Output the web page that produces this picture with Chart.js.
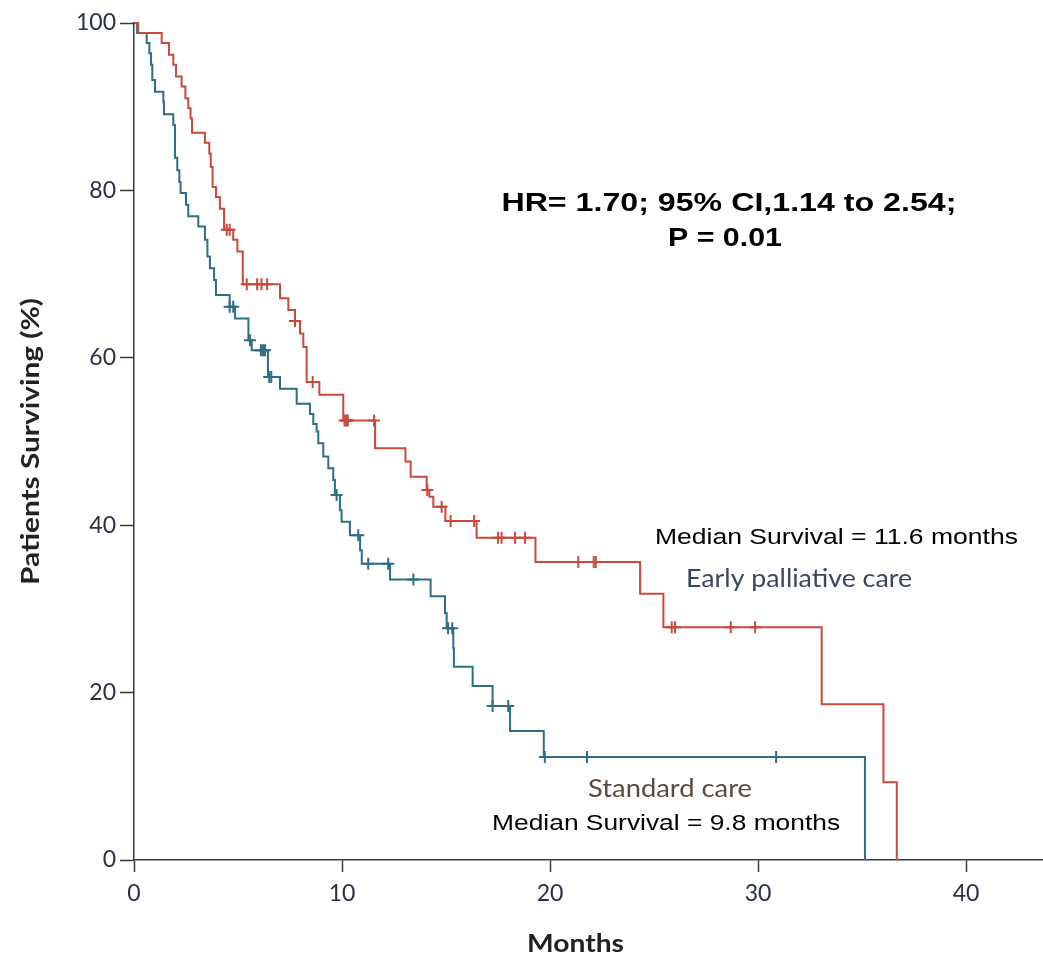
<!DOCTYPE html>
<html>
<head>
<meta charset="utf-8">
<script src="https://cdn.jsdelivr.net/npm/chart.js@4.4.1/dist/chart.umd.min.js"></script>
<style>
  html, body { margin: 0; padding: 0; background: #ffffff; overflow: hidden; }
  #wrap { width: 1043px; height: 957px; overflow: hidden; }
  #c { display: block; }
</style>
</head>
<body>
<div id="wrap"><canvas id="c" width="1051" height="957"></canvas></div>
<script>
// ---- Data ----
const xTicks = [0, 10, 20, 30, 40];
const yTicks = [0, 20, 40, 60, 80, 100];

// Early palliative care: step times (months) and survival (%) after each step
const earlyTimes = [0, 0.2, 1.33, 1.68, 1.89, 2.02, 2.29, 2.47, 2.61, 2.72, 2.79, 3.41, 3.62, 3.69, 3.78, 3.94, 4.13, 4.33, 4.77, 4.97, 5.23, 7.02, 7.42, 7.74, 7.98, 8.14, 8.3, 8.91, 10.06, 11.59, 13.05, 13.3, 14.07, 14.2, 14.39, 14.97, 16.47, 19.3, 24.33, 25.45, 33.06, 36.03, 36.67];
const earlySurv  = [100, 98.8, 97.6, 96.2, 95.0, 93.6, 92.4, 91.0, 89.8, 88.6, 86.9, 85.7, 84.4, 82.8, 80.4, 79.2, 77.8, 75.3, 74.1, 72.7, 68.8, 67.1, 65.7, 64.4, 62.9, 61.3, 57.1, 55.6, 52.5, 49.2, 47.6, 45.8, 44.2, 43.4, 42.2, 40.5, 38.5, 35.6, 31.8, 27.8, 18.6, 9.3, 0];
const earlyCensor = [4.46, 4.6, 5.42, 5.92, 6.13, 6.4, 7.74, 8.59, 10.12, 10.2, 10.28, 11.54, 14.1, 14.79, 15.22, 16.35, 17.5, 17.67, 18.32, 18.8, 21.36, 22.1, 22.2, 25.85, 26.01, 28.69, 29.86];

// Standard care
const stdTimes = [0, 0.15, 0.61, 0.74, 0.82, 0.88, 1.01, 1.41, 1.44, 1.89, 1.97, 2.08, 2.18, 2.24, 2.5, 2.61, 3.09, 3.41, 3.53, 3.65, 3.85, 3.94, 4.6, 4.86, 5.5, 5.66, 6.44, 7.02, 7.82, 8.46, 8.62, 8.78, 8.86, 9.1, 9.34, 9.58, 9.66, 9.9, 9.98, 10.38, 10.87, 10.95, 12.31, 14.26, 14.95, 15.03, 15.35, 15.38, 16.28, 17.24, 18.08, 19.7, 35.14];
const stdSurv  = [100, 98.8, 97.6, 96.4, 95.0, 93.2, 91.8, 90.6, 89.1, 87.8, 83.9, 82.4, 81.0, 79.7, 78.3, 76.9, 75.7, 74.1, 72.1, 70.7, 69.3, 67.5, 66.1, 64.7, 62.1, 60.9, 57.7, 56.3, 54.5, 53.3, 52.1, 51.2, 49.8, 48.2, 46.8, 45.4, 43.6, 41.8, 40.4, 38.8, 37.0, 35.4, 33.5, 31.5, 29.5, 27.7, 25.3, 23.1, 20.8, 18.4, 15.4, 12.3, 0];
const stdCensor = [4.6, 4.77, 5.58, 6.1, 6.2, 6.3, 6.5, 6.6, 9.74, 10.78, 11.26, 12.22, 13.43, 15.1, 15.3, 17.24, 17.99, 19.75, 21.78, 30.87];

const labels = {
  stats1: 'HR= 1.70; 95% CI,1.14 to 2.54;',
  stats2: 'P = 0.01',
  earlyMedian: 'Median Survival = 11.6 months',
  earlyName: 'Early palliative care',
  stdName: 'Standard care',
  stdMedian: 'Median Survival = 9.8 months',
  xTitle: 'Months',
  yTitle: 'Patients Surviving (%)'
};

// ---- Helpers ----
const RED = '#c84a3d';
const BLUE = '#2d6e86';
const AXIS = '#3a3a3a';
const TICKTXT = '#2a2f45';

function toPoints(ts, ss) { return ts.map((t, i) => ({ x: t, y: ss[i] })); }
function survAt(ts, ss, t) {
  let v = ss[0];
  for (let i = 0; i < ts.length; i++) { if (ts[i] <= t) v = ss[i]; else break; }
  return v;
}
function censorPoints(cs, ts, ss) { return cs.map(t => ({ x: t, y: survAt(ts, ss, t) })); }

// draw text centred at (cx, baseline) stretched to a target width
function stretchedText(ctx, text, cx, by, font, color, targetW, rotate) {
  ctx.save();
  ctx.font = font;
  ctx.fillStyle = color;
  ctx.textAlign = 'center';
  ctx.textBaseline = 'alphabetic';
  const w = ctx.measureText(text).width;
  const sx = targetW ? targetW / w : 1;
  ctx.translate(cx, by);
  if (rotate) ctx.rotate(-Math.PI / 2);
  ctx.scale(sx, 1);
  ctx.fillText(text, 0, 0);
  ctx.restore();
}

const ARIAL = '"Liberation Sans", Arial, sans-serif';
const HUMAN = 'Lato, "Open Sans", sans-serif';

const textPlugin = {
  id: 'kmText',
  afterDraw(chart) {
    const { ctx, scales: { x, y } } = chart;
    const items = [
      { t: labels.stats1, px: 28.6, py: 77.5, font: 'bold 25px ' + ARIAL, color: '#000', w: 455 },
      { t: labels.stats2, px: 28.41, py: 73.3, font: 'bold 25px ' + ARIAL, color: '#000', w: 114 },
      { t: labels.earlyMedian, px: 33.77, py: 37.7, font: '22px ' + ARIAL, color: '#000', w: 363 },
      { t: labels.earlyName, px: 31.97, py: 32.6, font: '25px ' + HUMAN, color: '#3a4660', w: 226 },
      { t: labels.stdName, px: 25.77, py: 7.48, font: '25px ' + HUMAN, color: '#5a4a3e', w: 164 },
      { t: labels.stdMedian, px: 25.58, py: 3.58, font: '22px ' + ARIAL, color: '#000', w: 348 }
    ];
    items.forEach(it => {
      stretchedText(ctx, it.t, x.getPixelForValue(it.px), y.getPixelForValue(it.py), it.font, it.color, it.w, false);
    });
    // axis titles
    stretchedText(ctx, labels.xTitle, 575.5, 952, 'bold 25px ' + HUMAN, '#222', 97, false);
    stretchedText(ctx, labels.yTitle, 39, (y.top + y.bottom) / 2, 'bold 24px ' + HUMAN, '#222', 287, true);
  }
};

new Chart(document.getElementById('c'), {
  type: 'scatter',
  data: {
    datasets: [
      { label: labels.earlyName, data: toPoints(earlyTimes, earlySurv), showLine: true, stepped: 'before',
        borderColor: RED, borderWidth: 2, pointRadius: 0, fill: false, clip: 6 },
      { label: labels.stdName, data: toPoints(stdTimes, stdSurv), showLine: true, stepped: 'before',
        borderColor: BLUE, borderWidth: 2, pointRadius: 0, fill: false, clip: 6 },
      { label: 'early censored', data: censorPoints(earlyCensor, earlyTimes, earlySurv), pointStyle: 'cross',
        pointRadius: 6, borderColor: RED, borderWidth: 2, backgroundColor: RED, clip: 6 },
      { label: 'standard censored', data: censorPoints(stdCensor, stdTimes, stdSurv), pointStyle: 'cross',
        pointRadius: 6, borderColor: BLUE, borderWidth: 2, backgroundColor: BLUE, clip: 6 }
    ]
  },
  options: {
    responsive: false,
    animation: false,
    events: [],
    layout: { padding: { top: 23, right: 0, left: 0, bottom: 0 } },
    scales: {
      x: {
        type: 'linear', min: 0, max: 43.7,
        afterBuildTicks: s => { s.ticks = xTicks.map(v => ({ value: v })); },
        afterFit: s => { s.height = 97; },
        ticks: { includeBounds: false, padding: 8, color: TICKTXT, font: { family: HUMAN, size: 23 } },
        grid: { drawOnChartArea: false, drawTicks: true, tickLength: 12, tickWidth: 1.5, tickColor: AXIS, color: AXIS },
        border: { display: true, color: AXIS, width: 1.5 },
        title: { display: false }
      },
      y: {
        type: 'linear', min: 0, max: 100,
        afterBuildTicks: s => { s.ticks = yTicks.map(v => ({ value: v })); },
        afterFit: s => { s.width = 134; },
        ticks: { padding: 4, color: TICKTXT, font: { family: HUMAN, size: 23 } },
        grid: { drawOnChartArea: false, drawTicks: true, tickLength: 14, tickWidth: 1.5, tickColor: AXIS, color: AXIS },
        border: { display: true, color: AXIS, width: 1.5 },
        title: { display: false }
      }
    },
    plugins: { legend: { display: false }, tooltip: { enabled: false } }
  },
  plugins: [textPlugin]
});
</script>
</body>
</html>
